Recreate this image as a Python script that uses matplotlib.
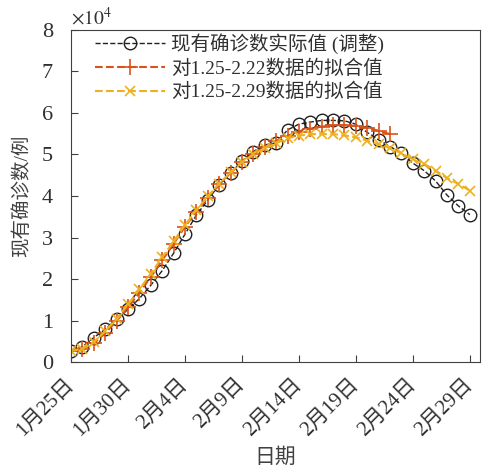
import numpy as np
import pandas as pd
import matplotlib
matplotlib.use('Agg')
import matplotlib.pyplot as plt
import matplotlib.transforms as mtrans

plt.rcParams['font.family'] = ['Liberation Serif', 'Noto Sans CJK SC']
plt.rcParams['mathtext.fontset'] = 'stix'

# data, unit 1e4
dates = pd.date_range('2020-01-25', '2020-02-29')
actual = [0.27, 0.37, 0.59, 0.79, 1.03, 1.27, 1.53, 1.85, 2.20, 2.62,
          3.08, 3.54, 3.90, 4.27, 4.55, 4.84, 5.07, 5.23, 5.28, 5.59,
          5.73, 5.78, 5.82, 5.82, 5.81, 5.73, 5.53, 5.35, 5.19, 5.03,
          4.79, 4.61, 4.36, 4.02, 3.76, 3.55]
fit_222 = [0.27, 0.31, 0.45, 0.70, 0.99, 1.32, 1.67, 2.05, 2.45, 2.85,
           3.26, 3.62, 3.96, 4.28, 4.56, 4.81, 5.02, 5.18, 5.33, 5.45,
           5.55, 5.62, 5.67, 5.70, 5.70, 5.69, 5.64, 5.57, 5.49]
fit_229 = [0.27, 0.32, 0.48, 0.74, 1.05, 1.39, 1.75, 2.13, 2.52, 2.91,
           3.30, 3.66, 3.99, 4.30, 4.57, 4.81, 5.00, 5.15, 5.27, 5.39,
           5.45, 5.49, 5.49, 5.49, 5.46, 5.41, 5.33, 5.24, 5.15, 5.03,
           4.88, 4.77, 4.61, 4.43, 4.29, 4.13]

fig = plt.figure(figsize=(4.83, 4.74), dpi=100)
ax = fig.add_axes([0.147, 0.236, 0.847, 0.701])

ax.plot(dates, actual, '--', color='#202020', marker='o', mfc='none', ms=9,
        mew=1.0, lw=1.0, label='现有确诊数实际值 (调整)')
ax.plot(dates[:len(fit_222)], fit_222, '--', color='#D95319', marker='+',
        ms=11, mew=1.2, lw=1.5, label='对1.25-2.22数据的拟合值')
ax.plot(dates, fit_229, '--', color='#EDB120', marker='x', ms=7, mew=1.2,
        lw=1.5, label='对1.25-2.29数据的拟合值')

ax.set_xlim(dates[0], dates[-1] + pd.Timedelta(days=0.9))
ax.set_ylim(0, 8)
ax.set_yticks(range(0, 9))
ticks = dates[::5]
ax.set_xticks(ticks)
ax.set_xticklabels([f'{d.month}月{d.day}日' for d in ticks], rotation=45,
                   ha='right', va='center', rotation_mode='anchor')
offset = mtrans.ScaledTranslation(8 / 100, 0, fig.dpi_scale_trans)
for lab in ax.get_xticklabels():
    lab.set_transform(lab.get_transform() + offset)
ax.tick_params(direction='in', color='#404040', length=5, labelcolor='#303030',
               top=False, right=False)
ax.tick_params(axis='y', labelsize=16, pad=13)
ax.tick_params(axis='x', labelsize=15, pad=14)
for s in ax.spines.values():
    s.set_color('#404040')

ax.set_xlabel('日期', fontsize=15, color='#404040', labelpad=6)
ax.set_ylabel('现有确诊数/例', fontsize=14, color='#404040', labelpad=8)
ax.text(0.0, 1.005, r'$\times10^4$', transform=ax.transAxes, fontsize=14,
        ha='left', va='bottom', color='#303030')

ax.legend(loc='upper left', bbox_to_anchor=(0.035, 1.02), frameon=False,
          fontsize=14, handlelength=3.6, borderaxespad=0.1,
          labelspacing=0.28, handletextpad=0.3, labelcolor='#303030')

fig.savefig('out.png', dpi=100)
